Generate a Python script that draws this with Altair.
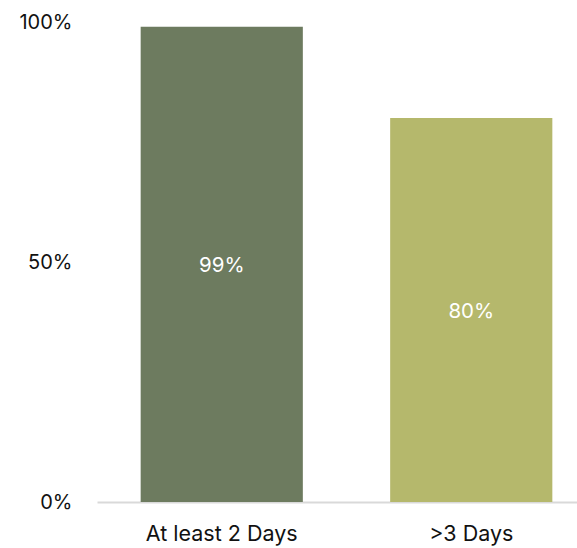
import altair as alt
import pandas as pd

categories = ["At least 2 Days", ">3 Days"]
values = [0.99, 0.80]
colors = ["#6d7b5f", "#b5b86c"]

df = pd.DataFrame({"cat": categories, "val": values, "color": colors})

base = alt.Chart(df).transform_calculate(mid="datum.val / 2")

xenc = alt.X(
    "cat:N",
    sort=categories,
    title=None,
    scale=alt.Scale(range=[0, 499], paddingInner=0.35, paddingOuter=0.175),
    axis=alt.Axis(
        labelAngle=0,
        labelFontSize=21.5,
        labelFont="Inter",
        labelColor="#111111",
        labelPadding=21,
        ticks=False,
        grid=False,
        domainColor="#d9d9d9",
        domainWidth=2,
        labelBaseline="top",
    ),
)

bars = base.mark_bar().encode(
    x=xenc,
    y=alt.Y(
        "val:Q",
        title=None,
        scale=alt.Scale(domain=[0, 1], nice=False),
        axis=alt.Axis(
            values=[0, 0.5, 1],
            format=".0%",
            grid=False,
            domain=False,
            ticks=False,
            labelPadding=25,
            labelFontSize=20,
            labelFont="Inter",
            labelColor="#111111",
        ),
    ),
    color=alt.Color("color:N", scale=None, legend=None),
)

labels = base.mark_text(color="white", fontSize=20.5, font="Inter", baseline="middle", dy=2).encode(
    x=alt.X("cat:N", sort=categories),
    y=alt.Y("mid:Q"),
    text=alt.Text("val:Q", format=".0%"),
)

chart = (
    alt.layer(bars, labels)
    .properties(
        width=480,
        height=480,
        background="white",
        autosize=alt.AutoSizeParams(type="none"),
        padding={"left": 97, "top": 22, "right": 0, "bottom": 46},
    )
    .configure_view(strokeWidth=0, stroke=None)
    .configure_axis(grid=False)
)

chart.save("out.html", embed_options={"renderer": "svg", "actions": False})
